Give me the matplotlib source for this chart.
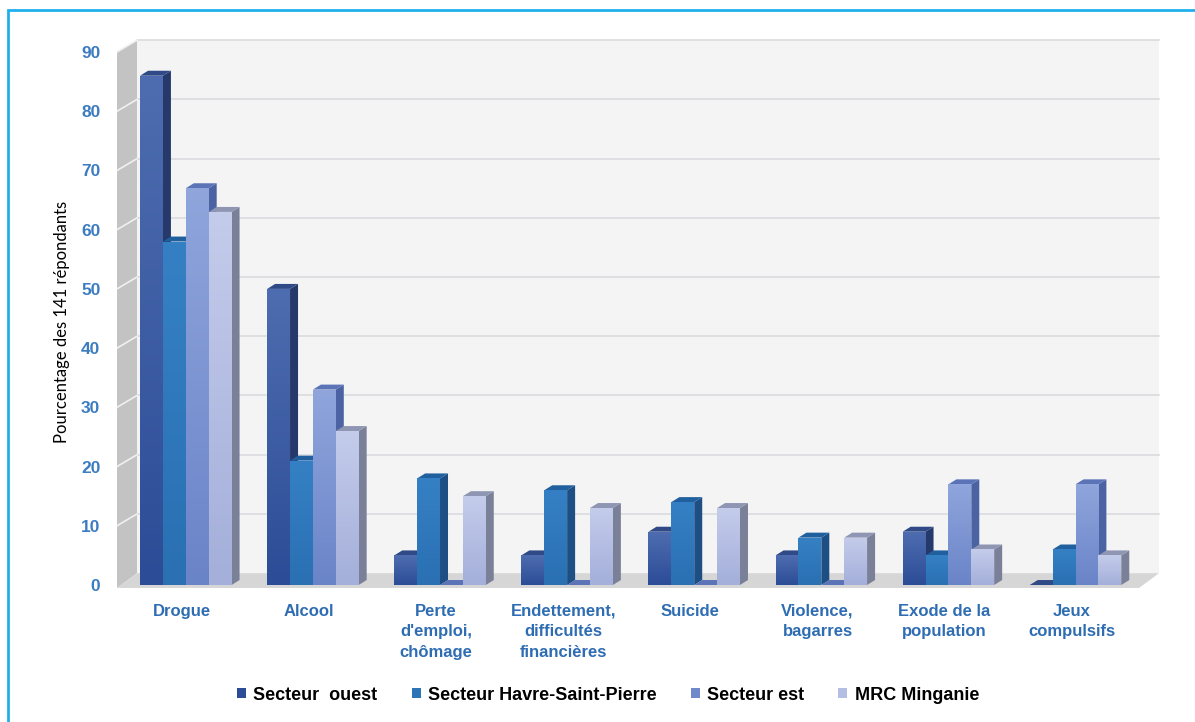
import matplotlib
matplotlib.use('Agg')
import matplotlib.pyplot as plt
import numpy as np
from matplotlib.patches import Polygon, Patch, Rectangle
from matplotlib.colors import LinearSegmentedColormap

categories = ['Drogue', 'Alcool', "Perte\nd'emploi,\nchômage", 'Endettement,\ndifficultés\nfinancières',
              'Suicide', 'Violence,\nbagarres', 'Exode de la\npopulation', 'Jeux\ncompulsifs']
series = ['Secteur  ouest', 'Secteur Havre-Saint-Pierre', 'Secteur est', 'MRC Minganie']
ouest = [86, 50, 5, 5, 9, 5, 9, 0]
havre = [58, 21, 18, 16, 14, 8, 5, 6]
est = [67, 33, 0, 0, 0, 0, 17, 17]
mrc = [63, 26, 15, 13, 13, 8, 6, 5]
yticks = list(range(0, 100, 10))

# couleurs : face avant (haut, bas), côté, dessus
front_top = ['#4e6db0', '#3580c4', '#8fa5dc', '#c4cceb']
front_bot = ['#2c4c97', '#2a70b3', '#6a84c8', '#a4afda']
side_col = ['#25396b', '#1d4f85', '#4b63a3', '#7a8098']
top_col = ['#2f4a86', '#21609e', '#5b74b8', '#8e96b4']
legend_col = ['#2c4c97', '#2e75b6', '#7088cc', '#b4bee3']

fonte = ['Liberation Sans', 'DejaVu Sans']

W, H = 1195, 722
fig = plt.figure(figsize=(W / 100, H / 100), dpi=100)
fig.patch.set_facecolor('white')

# axes placées en pixels
px_l, px_r, px_b, px_t = 117, 1165, 590, 35
ax = fig.add_axes([px_l / W, 1 - px_b / H, (px_r - px_l) / W, (px_b - px_t) / H])
sx = 127.1       # pixels par catégorie
sy = 5.922       # pixels par unité
x0 = (px_l - 182) / sx
ax.set_facecolor('white')
for s in ax.spines.values():
    s.set_visible(False)

dxw, dyw = 20 / sx, 2.0          # profondeur des murs
dxb, dyb = 8 / sx, 0.84          # profondeur des barres
x_right = 7.53

# mur du fond
ax.add_patch(Polygon([(x0 + dxw, dyw), (x_right + dxw, dyw), (x_right + dxw, 90 + dyw), (x0 + dxw, 90 + dyw)],
                     closed=True, facecolor='#f4f4f5', edgecolor='none', zorder=0))
# mur gauche
ax.add_patch(Polygon([(x0, -0.5), (x0, 90), (x0 + dxw, 90 + dyw), (x0 + dxw, dyw)],
                     closed=True, facecolor='#c3c3c3', edgecolor='none', zorder=1))
# plancher
ax.add_patch(Polygon([(x0, -0.5), (x_right, -0.5), (x_right + dxw, dyw), (x0 + dxw, dyw)],
                     closed=True, facecolor='#d6d6d6', edgecolor='none', zorder=1))
for v in yticks[1:]:
    ax.plot([x0 + dxw, x_right + dxw], [v + dyw, v + dyw], color='#dadbe0', lw=1.2, zorder=0.5)
    ax.plot([x0, x0 + dxw], [v, v + dyw], color='#f0f0f0', lw=1.2, zorder=1.5)

data = [ouest, havre, est, mrc]
w = 0.18
idx = np.arange(len(categories))
z = 3
for i in range(len(categories)):
    for k in range(4):
        xc = i + 0.03 + (k - 1.5) * w
        v = data[k][i]
        rect = ax.bar(xc, v, width=w, color=front_bot[k], zorder=z, linewidth=0)[0]
        if v > 0:
            cmap = LinearSegmentedColormap.from_list('g', [front_bot[k], front_top[k]])
            im = ax.imshow(np.linspace(0, 1, 100).reshape(-1, 1), extent=[xc - w / 2, xc + w / 2, 0, v],
                           origin='lower', cmap=cmap, aspect='auto', zorder=z + 0.1)
            im.set_clip_path(rect)
        xr = xc + w / 2
        xl = xc - w / 2
        ax.add_patch(Polygon([(xr, 0), (xr, v), (xr + dxb, v + dyb), (xr + dxb, dyb)], closed=True,
                             facecolor=side_col[k], edgecolor='none', zorder=z - 0.5))
        ax.add_patch(Polygon([(xl, v), (xr, v), (xr + dxb, v + dyb), (xl + dxb, v + dyb)], closed=True,
                             facecolor=top_col[k], edgecolor='none', zorder=z - 0.5))
        z += 1

ax.set_xlim(x0, (px_r - 182) / sx)
ax.set_ylim((585 - px_b) / sy, (585 - px_t) / sy)

ax.set_yticks(yticks)
ax.set_yticklabels([str(t) for t in yticks], fontsize=12.5, fontweight='bold', color='#3c7cc0', family=fonte)
ax.tick_params(axis='y', length=0, pad=12)
ax.set_xticks(idx)
ax.set_xticklabels(categories, fontsize=12, fontweight='bold', color='#2f6db3', family=fonte,
                   linespacing=1.45, va='top')
ax.tick_params(axis='x', length=0, pad=10)

fig.text(62 / W, 1 - 322 / H, 'Pourcentage des 141 répondants', rotation=90, ha='center', va='center',
         fontsize=12, color='black', family=['Lato', 'DejaVu Sans'])

handles = [Patch(facecolor=c, edgecolor='none') for c in legend_col]
leg = fig.legend(handles, series, loc='center', bbox_to_anchor=(608 / W, 1 - 695 / H), ncol=4, frameon=False,
                 handlelength=0.5, handleheight=0.5, handletextpad=0.4, columnspacing=1.9,
                 prop={'family': fonte, 'weight': 'bold', 'size': 13})

# cadre bleu
fig.add_artist(Rectangle((8 / W, -0.02), (W + 10) / W, 1 - 10 / H + 0.02, transform=fig.transFigure,
                         fill=False, edgecolor='#1fb0ec', lw=2))

fig.savefig('out.png', dpi=100)
